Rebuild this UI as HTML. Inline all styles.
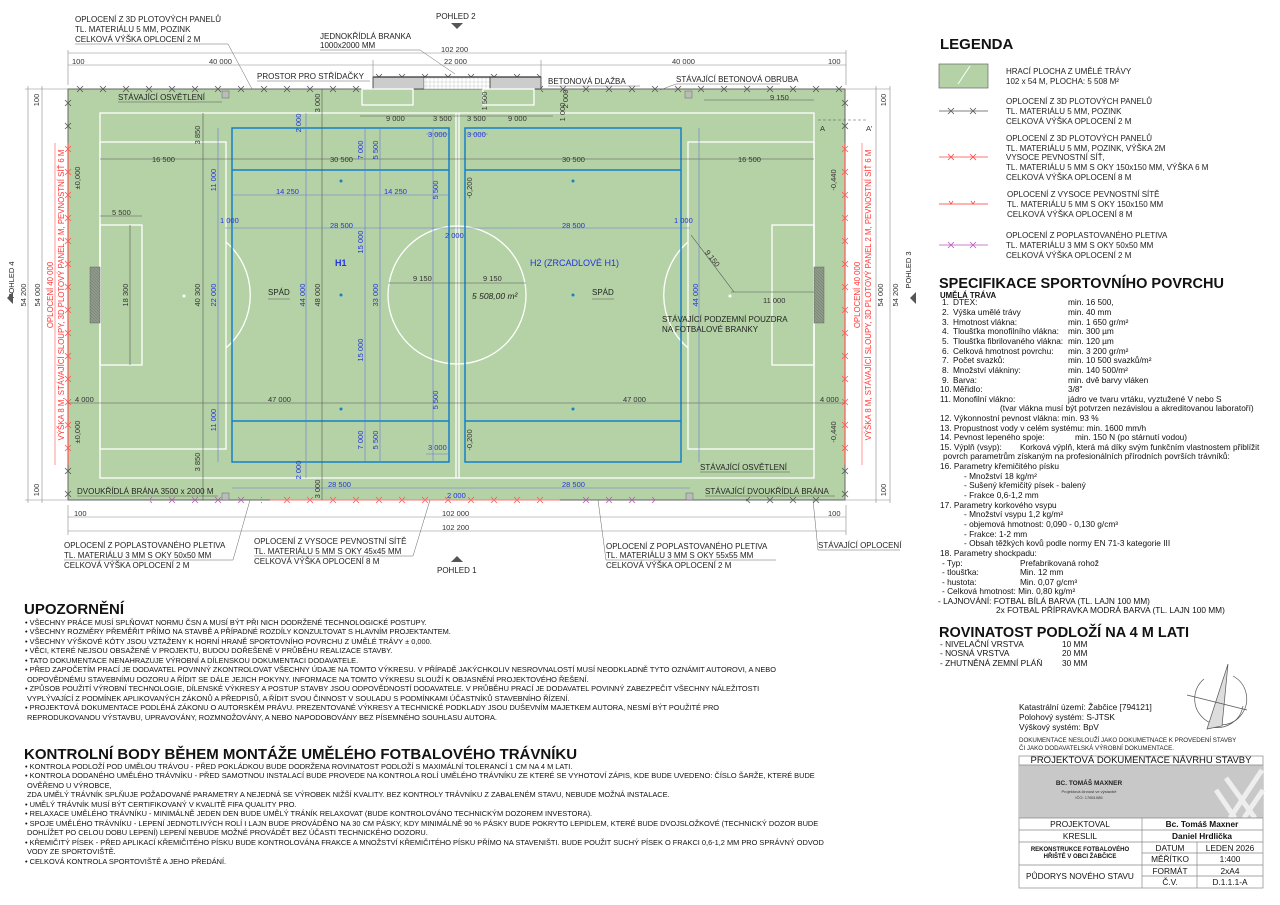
<!DOCTYPE html>
<html><head><meta charset="utf-8"><style>
html,body{margin:0;padding:0;background:#fff;}
svg{display:block;font-family:"Liberation Sans",Arial,sans-serif;}
.d{font-size:7.5px;fill:#333;}
.b{font-size:7.5px;fill:#2233dd;}
.l{font-size:8px;fill:#222;}
.s{font-size:8.3px;fill:#111;}
.n{font-size:7.4px;fill:#111;}
</style></head><body>
<svg width="1280" height="905" viewBox="0 0 1280 905" xmlns="http://www.w3.org/2000/svg">
<defs>
<pattern id="xgT" x="0" y="84" width="23" height="10" patternUnits="userSpaceOnUse"><path d="M8 2 L14 8 M14 2 L8 8" stroke="#555" stroke-width="0.8"/></pattern>
<pattern id="xgS" x="0" y="72" width="23" height="10" patternUnits="userSpaceOnUse"><path d="M8 2 L14 8 M14 2 L8 8" stroke="#555" stroke-width="0.8"/></pattern>
<pattern id="xgB" x="0" y="495" width="23" height="10" patternUnits="userSpaceOnUse"><path d="M8 2 L14 8 M14 2 L8 8" stroke="#555" stroke-width="0.8"/></pattern>
<pattern id="xrB" x="0" y="495" width="23" height="10" patternUnits="userSpaceOnUse"><path d="M8 2 L14 8 M14 2 L8 8" stroke="#f55" stroke-width="0.8"/></pattern>
<pattern id="xpB" x="0" y="495" width="23" height="10" patternUnits="userSpaceOnUse"><path d="M8 2 L14 8 M14 2 L8 8" stroke="#b5b" stroke-width="0.8"/></pattern>
<pattern id="xgL" x="63" y="0" width="10" height="23" patternUnits="userSpaceOnUse"><path d="M2 8 L8 14 M8 8 L2 14" stroke="#555" stroke-width="0.8"/></pattern>
<pattern id="xgR" x="840" y="0" width="10" height="23" patternUnits="userSpaceOnUse"><path d="M2 8 L8 14 M8 8 L2 14" stroke="#555" stroke-width="0.8"/></pattern>
<pattern id="xrL" x="63" y="0" width="10" height="23" patternUnits="userSpaceOnUse"><path d="M2 8 L8 14 M8 8 L2 14" stroke="#f55" stroke-width="0.8"/></pattern>
<pattern id="xrR" x="840" y="0" width="10" height="23" patternUnits="userSpaceOnUse"><path d="M2 8 L8 14 M8 8 L2 14" stroke="#f55" stroke-width="0.8"/></pattern>
<pattern id="hat" width="4" height="4" patternUnits="userSpaceOnUse"><rect width="4" height="4" fill="#fff"/><path d="M0 2H4M2 0V4" stroke="#ccc" stroke-width="0.5"/></pattern>
<pattern id="gn" width="3" height="3" patternUnits="userSpaceOnUse"><rect width="3" height="3" fill="#8f9a8a"/><path d="M0 0L3 3" stroke="#6a7766" stroke-width="0.5"/></pattern>
</defs>

<!-- FIELD -->
<rect x="68" y="89" width="777" height="411" fill="#b5d2a6" stroke="#666" stroke-width="1"/>
<!-- fences -->
<rect x="68" y="84" width="305" height="10" fill="url(#xgT)"/>
<rect x="541" y="84" width="304" height="10" fill="url(#xgT)"/>
<rect x="373" y="72" width="168" height="10" fill="url(#xgS)"/>
<rect x="63" y="89" width="10" height="54" fill="url(#xgL)"/>
<rect x="63" y="143" width="10" height="322" fill="url(#xrL)"/>
<rect x="63" y="465" width="10" height="35" fill="url(#xgL)"/>
<rect x="840" y="89" width="10" height="54" fill="url(#xgR)"/>
<rect x="840" y="143" width="10" height="322" fill="url(#xrR)"/>
<rect x="840" y="465" width="10" height="35" fill="url(#xgR)"/>
<line x1="68" y1="143" x2="68" y2="465" stroke="#f55" stroke-width="1.2"/>
<line x1="845" y1="143" x2="845" y2="465" stroke="#f55" stroke-width="1.2"/>
<rect x="150" y="495" width="112" height="10" fill="url(#xpB)"/>
<rect x="270" y="495" width="290" height="10" fill="url(#xrB)"/>
<rect x="580" y="495" width="75" height="10" fill="url(#xpB)"/>
<rect x="746" y="495" width="80" height="10" fill="url(#xgB)"/>
<line x1="270" y1="500" x2="560" y2="500" stroke="#f77" stroke-width="1"/>
<!-- substitutes area -->
<rect x="373" y="77" width="51" height="12" fill="#ccc" stroke="#333" stroke-width="0.8"/>
<rect x="424" y="77" width="66" height="12" fill="url(#hat)" stroke="#999" stroke-width="0.5"/>
<rect x="490" y="77" width="51" height="12" fill="#ccc" stroke="#333" stroke-width="0.8"/>
<line x1="373" y1="77" x2="541" y2="77" stroke="#333" stroke-width="1.2"/>

<!-- white markings -->
<g fill="none" stroke="#fff" stroke-width="1.3">
<rect x="100" y="113" width="714" height="365"/>
<line x1="456" y1="113" x2="456" y2="478"/><line x1="459" y1="113" x2="459" y2="478"/>
<circle cx="457" cy="295" r="69"/>
<rect x="100" y="142" width="126" height="307"/>
<rect x="100" y="225" width="42" height="140"/>
<rect x="688" y="142" width="126" height="307"/>
<rect x="772" y="225" width="42" height="140"/>
<path d="M226 242 A70 70 0 0 1 226 348"/>
<path d="M688 242 A70 70 0 0 0 688 348"/>
<rect x="362" y="89" width="51" height="16"/>
<rect x="483" y="89" width="51" height="16"/>
</g>
<circle cx="184" cy="296" r="1.5" fill="#fff"/><circle cx="730" cy="296" r="1.5" fill="#fff"/>
<rect x="90" y="267" width="10" height="56" fill="url(#gn)" stroke="#666" stroke-width="0.5"/>
<rect x="814" y="267" width="10" height="56" fill="url(#gn)" stroke="#666" stroke-width="0.5"/>

<!-- blue small pitches -->
<g fill="none" stroke="#1580c8" stroke-width="1.5">
<rect x="232" y="128" width="217" height="334"/>
<line x1="232" y1="170" x2="449" y2="170"/><line x1="232" y1="421" x2="449" y2="421"/>
<rect x="465" y="128" width="216" height="334"/>
<line x1="465" y1="170" x2="681" y2="170"/><line x1="465" y1="421" x2="681" y2="421"/>
</g>
<g fill="#1580c8"><circle cx="341" cy="181" r="1.5"/><circle cx="341" cy="295" r="1.5"/><circle cx="341" cy="409" r="1.5"/>
<circle cx="573" cy="181" r="1.5"/><circle cx="573" cy="295" r="1.5"/><circle cx="573" cy="409" r="1.5"/></g>

<!-- grey dimension lines in field -->
<g stroke="#555" stroke-width="0.6" fill="none">
<line x1="100" y1="159" x2="814" y2="159"/>
<line x1="100" y1="216" x2="142" y2="216"/>
<line x1="68" y1="403" x2="845" y2="403"/>
<line x1="203" y1="113" x2="203" y2="500"/>
<line x1="130" y1="225" x2="130" y2="365"/>
<line x1="322" y1="89" x2="322" y2="500"/>
<line x1="388" y1="283" x2="526" y2="283"/>
<line x1="360" y1="116" x2="460" y2="116"/><line x1="460" y1="116" x2="553" y2="116"/>
<line x1="704" y1="100" x2="814" y2="100"/>
<line x1="731" y1="292" x2="814" y2="292"/>
<line x1="691" y1="235" x2="734" y2="292"/>
<line x1="818" y1="120" x2="868" y2="120" stroke-dasharray="3 2"/>
</g>
<!-- blue dimension lines -->
<g stroke="#6677dd" stroke-width="0.6" fill="none">
<line x1="218" y1="128" x2="218" y2="462"/>
<line x1="306" y1="113" x2="306" y2="478"/>
<line x1="365" y1="128" x2="365" y2="462"/>
<line x1="380" y1="128" x2="380" y2="462"/>
<line x1="433" y1="128" x2="433" y2="462"/>
<line x1="699" y1="128" x2="699" y2="462"/>
<line x1="232" y1="195" x2="449" y2="195"/>
<line x1="225" y1="228" x2="690" y2="228"/>
<line x1="232" y1="488" x2="690" y2="488"/>
<line x1="426" y1="134" x2="449" y2="134"/><line x1="465" y1="134" x2="488" y2="134"/>
<line x1="426" y1="454" x2="449" y2="454"/>
</g>

<!-- field texts -->
<g class="d">
<text x="152" y="162">16 500</text><text x="330" y="162">30 500</text><text x="562" y="162">30 500</text><text x="738" y="162">16 500</text>
<text x="112" y="215">5 500</text>
<text x="75" y="402">4 000</text><text x="268" y="402">47 000</text><text x="623" y="402">47 000</text><text x="820" y="402">4 000</text>
<text x="386" y="121">9 000</text><text x="433" y="121">3 500</text><text x="467" y="121">3 500</text><text x="508" y="121">9 000</text>
<text x="770" y="100">9 150</text>
<text x="413" y="281">9 150</text><text x="483" y="281">9 150</text>
<text x="763" y="303">11 000</text>
<text transform="rotate(52 712 262)" x="700" y="262">9 150</text>
<text transform="rotate(-90 200 135)" x="200" y="135" text-anchor="middle">3 850</text>
<text transform="rotate(-90 200 295)" x="200" y="295" text-anchor="middle">40 300</text>
<text transform="rotate(-90 200 462)" x="200" y="462" text-anchor="middle">3 850</text>
<text transform="rotate(-90 128 295)" x="128" y="295" text-anchor="middle">18 300</text>
<text transform="rotate(-90 320 103)" x="320" y="103" text-anchor="middle">3 000</text>
<text transform="rotate(-90 320 295)" x="320" y="295" text-anchor="middle">48 000</text>
<text transform="rotate(-90 320 489)" x="320" y="489" text-anchor="middle">3 000</text>
<text transform="rotate(-90 80 178)" x="80" y="178" text-anchor="middle">±0,000</text>
<text transform="rotate(-90 80 432)" x="80" y="432" text-anchor="middle">±0,000</text>
<text transform="rotate(-90 836 180)" x="836" y="180" text-anchor="middle">-0,440</text>
<text transform="rotate(-90 836 432)" x="836" y="432" text-anchor="middle">-0,440</text>
<text transform="rotate(-90 472 188)" x="472" y="188" text-anchor="middle">-0,200</text>
<text transform="rotate(-90 472 440)" x="472" y="440" text-anchor="middle">-0,200</text>
<text transform="rotate(-90 487 101)" x="487" y="101" text-anchor="middle">1 500</text>
<text transform="rotate(-90 568 99)" x="568" y="99" text-anchor="middle">2 000</text>
<text transform="rotate(-90 565 112)" x="565" y="112" text-anchor="middle">1 000</text>
</g>
<g class="b">
<text x="276" y="194">14 250</text><text x="384" y="194">14 250</text>
<text x="220" y="223">1 000</text><text x="674" y="223">1 000</text>
<text x="330" y="228">28 500</text><text x="562" y="228">28 500</text>
<text x="445" y="238">2 000</text>
<text x="428" y="137">3 000</text><text x="467" y="137">3 000</text><text x="428" y="450">3 000</text>
<text x="328" y="487">28 500</text><text x="562" y="487">28 500</text><text x="447" y="498">2 000</text>
<text transform="rotate(-90 216 180)" x="216" y="180" text-anchor="middle">11 000</text>
<text transform="rotate(-90 216 295)" x="216" y="295" text-anchor="middle">22 000</text>
<text transform="rotate(-90 216 420)" x="216" y="420" text-anchor="middle">11 000</text>
<text transform="rotate(-90 301 123)" x="301" y="123" text-anchor="middle">2 000</text>
<text transform="rotate(-90 305 295)" x="305" y="295" text-anchor="middle">44 000</text>
<text transform="rotate(-90 301 470)" x="301" y="470" text-anchor="middle">2 000</text>
<text transform="rotate(-90 363 150)" x="363" y="150" text-anchor="middle">7 000</text>
<text transform="rotate(-90 363 242)" x="363" y="242" text-anchor="middle">15 000</text>
<text transform="rotate(-90 363 350)" x="363" y="350" text-anchor="middle">15 000</text>
<text transform="rotate(-90 363 440)" x="363" y="440" text-anchor="middle">7 000</text>
<text transform="rotate(-90 378 150)" x="378" y="150" text-anchor="middle">5 500</text>
<text transform="rotate(-90 378 295)" x="378" y="295" text-anchor="middle">33 000</text>
<text transform="rotate(-90 378 440)" x="378" y="440" text-anchor="middle">5 500</text>
<text transform="rotate(-90 438 190)" x="438" y="190" text-anchor="middle">5 500</text>
<text transform="rotate(-90 438 400)" x="438" y="400" text-anchor="middle">5 500</text>
<text transform="rotate(-90 698 295)" x="698" y="295" text-anchor="middle">44 000</text>
</g>
<text x="335" y="266" font-size="9" font-weight="bold" fill="#2233dd">H1</text>
<text x="530" y="266" font-size="9" fill="#2233dd">H2 (ZRCADLOVÉ H1)</text>
<text x="268" y="295" class="l">SPÁD</text><line x1="268" y1="299" x2="290" y2="299" stroke="#555" stroke-width="0.5"/>
<text x="592" y="295" class="l">SPÁD</text><line x1="592" y1="299" x2="614" y2="299" stroke="#555" stroke-width="0.5"/>
<text x="472" y="299" font-size="8.5" font-style="italic" fill="#222">5 508,00 m²</text>
<text x="662" y="322" class="l">STÁVAJÍCÍ PODZEMNÍ POUZDRA</text>
<text x="662" y="332" class="l">NA FOTBALOVÉ BRANKY</text>
<text x="118" y="100" class="l">STÁVAJÍCÍ OSVĚTLENÍ</text><line x1="118" y1="102" x2="222" y2="102" stroke="#555" stroke-width="0.5"/>
<rect x="222" y="91" width="7" height="7" fill="#bbb" stroke="#666" stroke-width="0.5"/>
<rect x="685" y="91" width="7" height="7" fill="#bbb" stroke="#666" stroke-width="0.5"/>
<rect x="222" y="493" width="7" height="7" fill="#bbb" stroke="#666" stroke-width="0.5"/>
<rect x="686" y="493" width="7" height="7" fill="#bbb" stroke="#666" stroke-width="0.5"/>
<text x="700" y="470" class="l">STÁVAJÍCÍ OSVĚTLENÍ</text><line x1="700" y1="472" x2="790" y2="472" stroke="#555" stroke-width="0.5"/>
<text x="77" y="494" class="l">DVOUKŘÍDLÁ BRÁNA 3500 x 2000 M</text><line x1="77" y1="496" x2="218" y2="496" stroke="#555" stroke-width="0.5"/>
<text x="705" y="494" class="l">STÁVAJÍCÍ DVOUKŘÍDLÁ BRÁNA</text><line x1="705" y1="496" x2="835" y2="496" stroke="#555" stroke-width="0.5"/>
<text x="820" y="131" font-size="7.5" fill="#333">A</text><text x="866" y="131" font-size="7.5" fill="#333">A'</text>

<!-- top annotations -->
<g class="l">
<text x="75" y="22">OPLOCENÍ Z 3D PLOTOVÝCH PANELŮ</text>
<text x="75" y="32">TL. MATERIÁLU 5 MM, POZINK</text>
<text x="75" y="42">CELKOVÁ VÝŠKA OPLOCENÍ 2 M</text>
<text x="320" y="39">JEDNOKŘÍDLÁ BRANKA</text>
<text x="320" y="48">1000x2000 MM</text>
<text x="257" y="79">PROSTOR PRO STŘÍDAČKY</text>
<text x="548" y="84">BETONOVÁ DLAŽBA</text>
<text x="676" y="82">STÁVAJÍCÍ BETONOVÁ OBRUBA</text>
<text x="436" y="19">POHLED 2</text>
</g>
<g stroke="#666" stroke-width="0.5" fill="none">
<line x1="75" y1="44" x2="228" y2="44"/><line x1="228" y1="44" x2="252" y2="89"/>
<line x1="320" y1="50" x2="420" y2="50"/><line x1="420" y1="50" x2="455" y2="74"/>
<line x1="257" y1="81" x2="370" y2="81"/>
<line x1="548" y1="86" x2="640" y2="86"/>
<line x1="676" y1="84" x2="780" y2="84"/><line x1="676" y1="84" x2="660" y2="90"/>
</g>
<path d="M451 23 L463 23 L457 29Z" fill="#555"/>
<g stroke="#888" stroke-width="0.6" fill="none">
<line x1="68" y1="53" x2="846" y2="53"/>
<line x1="68" y1="65" x2="846" y2="65"/>
<line x1="68" y1="50" x2="68" y2="85"/><line x1="846" y1="50" x2="846" y2="85"/>
<line x1="373" y1="60" x2="373" y2="77"/><line x1="541" y1="60" x2="541" y2="77"/>
<line x1="25" y1="89" x2="68" y2="89"/><line x1="25" y1="500" x2="68" y2="500"/>
<line x1="845" y1="89" x2="890" y2="89"/><line x1="845" y1="500" x2="890" y2="500"/>
<line x1="28" y1="86" x2="28" y2="503"/><line x1="42" y1="86" x2="42" y2="503"/>
<line x1="876" y1="86" x2="876" y2="503"/><line x1="890" y1="86" x2="890" y2="503"/>
<line x1="68" y1="517" x2="846" y2="517"/><line x1="68" y1="531" x2="846" y2="531"/>
<line x1="68" y1="505" x2="68" y2="535"/><line x1="846" y1="505" x2="846" y2="535"/>
</g>
<g class="d" font-size="8">
<text x="441" y="52">102 200</text><text x="444" y="64">22 000</text>
<text x="209" y="64">40 000</text><text x="672" y="64">40 000</text>
<text x="72" y="64">100</text><text x="828" y="64">100</text>
<text x="74" y="516">100</text><text x="442" y="516">102 000</text><text x="442" y="530">102 200</text><text x="828" y="516">100</text>
<text transform="rotate(-90 39 100)" x="39" y="100" text-anchor="middle">100</text>
<text transform="rotate(-90 39 490)" x="39" y="490" text-anchor="middle">100</text>
<text transform="rotate(-90 886 100)" x="886" y="100" text-anchor="middle">100</text>
<text transform="rotate(-90 886 490)" x="886" y="490" text-anchor="middle">100</text>
<text transform="rotate(-90 26 295)" x="26" y="295" text-anchor="middle">54 200</text>
<text transform="rotate(-90 40 295)" x="40" y="295" text-anchor="middle">54 000</text>
<text transform="rotate(-90 883 295)" x="883" y="295" text-anchor="middle">54 000</text>
<text transform="rotate(-90 898 295)" x="898" y="295" text-anchor="middle">54 200</text>
<text transform="rotate(-90 14 280)" x="14" y="280" text-anchor="middle" fill="#222">POHLED 4</text>
<text transform="rotate(-90 911 270)" x="911" y="270" text-anchor="middle" fill="#222">POHLED 3</text>
</g>
<path d="M7 298 L13 292 L13 304Z" fill="#555"/>
<path d="M910 298 L916 292 L916 304Z" fill="#555"/>
<g font-size="7.8" fill="#f33">
<text transform="rotate(-90 53 295)" x="53" y="295" text-anchor="middle">OPLOCENÍ 40 000</text>
<text transform="rotate(-90 64 295)" x="64" y="295" text-anchor="middle">VÝŠKA 8 M, STÁVAJÍCÍ SLOUPY, 3D PLOTOVÝ PANEL 2 M, PEVNOSTNÍ SÍŤ 6 M</text>
<text transform="rotate(-90 860 295)" x="860" y="295" text-anchor="middle">OPLOCENÍ 40 000</text>
<text transform="rotate(-90 871 295)" x="871" y="295" text-anchor="middle">VÝŠKA 8 M, STÁVAJÍCÍ SLOUPY, 3D PLOTOVÝ PANEL 2 M, PEVNOSTNÍ SÍŤ 6 M</text>
</g>
<g stroke="#f55" stroke-width="0.6"><line x1="55" y1="143" x2="55" y2="465"/><line x1="862" y1="143" x2="862" y2="465"/></g>

<!-- bottom annotations -->
<g class="l">
<text x="64" y="548">OPLOCENÍ Z POPLASTOVANÉHO PLETIVA</text>
<text x="64" y="558">TL. MATERIÁLU 3 MM S OKY 50x50 MM</text>
<text x="64" y="568">CELKOVÁ VÝŠKA OPLOCENÍ 2 M</text>
<text x="254" y="544">OPLOCENÍ Z VYSOCE PEVNOSTNÍ SÍTĚ</text>
<text x="254" y="554">TL. MATERIÁLU 5 MM S OKY 45x45 MM</text>
<text x="254" y="564">CELKOVÁ VÝŠKA OPLOCENÍ 8 M</text>
<text x="606" y="549">OPLOCENÍ Z POPLASTOVANÉHO PLETIVA</text>
<text x="606" y="558">TL. MATERIÁLU 3 MM S OKY 55x55 MM</text>
<text x="606" y="568">CELKOVÁ VÝŠKA OPLOCENÍ 2 M</text>
<text x="818" y="548">STÁVAJÍCÍ OPLOCENÍ</text>
<text x="437" y="573">POHLED 1</text>
</g>
<path d="M451 562 L463 562 L457 556Z" fill="#555"/>
<g stroke="#666" stroke-width="0.5" fill="none">
<line x1="64" y1="560" x2="233" y2="560"/><line x1="233" y1="560" x2="250" y2="500"/>
<line x1="254" y1="556" x2="413" y2="556"/><line x1="413" y1="556" x2="430" y2="500"/>
<line x1="606" y1="560" x2="776" y2="560"/><line x1="606" y1="560" x2="598" y2="500"/>
<line x1="818" y1="550" x2="900" y2="550"/><line x1="818" y1="550" x2="813" y2="500"/>
</g>

<!-- LEGEND -->
<text x="940" y="49" font-size="15" font-weight="bold" fill="#111">LEGENDA</text>
<rect x="939" y="64" width="49" height="24" fill="#b5d2a6" stroke="#666" stroke-width="0.7"/>
<line x1="958" y1="84" x2="970" y2="66" stroke="#fff" stroke-width="1"/>
<g class="l">
<text x="1006" y="74">HRACÍ PLOCHA Z UMĚLÉ TRÁVY</text>
<text x="1006" y="84">102 x 54 M, PLOCHA: 5 508 M²</text>
<text x="1006" y="104">OPLOCENÍ Z 3D PLOTOVÝCH PANELŮ</text>
<text x="1006" y="114">TL. MATERIÁLU 5 MM, POZINK</text>
<text x="1006" y="124">CELKOVÁ VÝŠKA OPLOCENÍ 2 M</text>
<text x="1006" y="141">OPLOCENÍ Z 3D PLOTOVÝCH PANELŮ</text>
<text x="1006" y="151">TL. MATERIÁLU 5 MM, POZINK, VÝŠKA 2M</text>
<text x="1006" y="160">VYSOCE PEVNOSTNÍ SÍŤ,</text>
<text x="1006" y="170">TL. MATERIÁLU 5 MM S OKY 150x150 MM, VÝŠKA 6 M</text>
<text x="1006" y="180">CELKOVÁ VÝŠKA OPLOCENÍ 8 M</text>
<text x="1007" y="197">OPLOCENÍ Z VYSOCE PEVNOSTNÍ SÍTĚ</text>
<text x="1007" y="207">TL. MATERIÁLU 5 MM S OKY 150x150 MM</text>
<text x="1007" y="217">CELKOVÁ VÝŠKA OPLOCENÍ 8 M</text>
<text x="1006" y="238">OPLOCENÍ Z POPLASTOVANÉHO PLETIVA</text>
<text x="1006" y="248">TL. MATERIÁLU 3 MM S OKY 50x50 MM</text>
<text x="1006" y="258">CELKOVÁ VÝŠKA OPLOCENÍ 2 M</text>
</g>
<g stroke-width="0.8">
<line x1="939" y1="111" x2="988" y2="111" stroke="#555"/><path d="M948 108L954 114M954 108L948 114M970 108L976 114M976 108L970 114" stroke="#555"/>
<line x1="939" y1="157" x2="988" y2="157" stroke="#f44"/><path d="M948 154L954 160M954 154L948 160M970 154L976 160M976 154L970 160" stroke="#f44"/>
<line x1="939" y1="204" x2="988" y2="204" stroke="#f99" stroke-width="1.5"/><path d="M949 201L951 204L953 201M971 201L973 204L975 201" stroke="#f44" fill="none"/>
<line x1="939" y1="245" x2="988" y2="245" stroke="#b5b"/><path d="M948 242L954 248M954 242L948 248M970 242L976 248M976 242L970 248" stroke="#b5b"/>
</g>

<!-- SPEC -->
<text x="939" y="288" font-size="14.5" font-weight="bold" fill="#111">SPECIFIKACE SPORTOVNÍHO POVRCHU</text>
<text x="940" y="298" font-size="7.8" font-weight="bold" fill="#111">UMĚLÁ TRÁVA</text>
<g class="s" font-size="7.8">
<text y="305"><tspan x="942">1.</tspan><tspan x="953">DTEX:</tspan><tspan x="1068">min. 16 500,</tspan></text>
<text y="315"><tspan x="942">2.</tspan><tspan x="953">Výška umělé trávy</tspan><tspan x="1068">min. 40 mm</tspan></text>
<text y="325"><tspan x="942">3.</tspan><tspan x="953">Hmotnost vlákna:</tspan><tspan x="1068">min. 1 650 gr/m²</tspan></text>
<text y="334"><tspan x="942">4.</tspan><tspan x="953">Tloušťka monofilního vlákna:</tspan><tspan x="1068">min. 300 µm</tspan></text>
<text y="344"><tspan x="942">5.</tspan><tspan x="953">Tloušťka fibrilovaného vlákna:</tspan><tspan x="1068">min. 120 µm</tspan></text>
<text y="354"><tspan x="942">6.</tspan><tspan x="953">Celková hmotnost povrchu:</tspan><tspan x="1068">min. 3 200 gr/m²</tspan></text>
<text y="363"><tspan x="942">7.</tspan><tspan x="953">Počet svazků:</tspan><tspan x="1068">min. 10 500 svazků/m²</tspan></text>
<text y="373"><tspan x="942">8.</tspan><tspan x="953">Množství vlákniny:</tspan><tspan x="1068">min. 140 500/m²</tspan></text>
<text y="383"><tspan x="942">9.</tspan><tspan x="953">Barva:</tspan><tspan x="1068">min. dvě barvy vláken</tspan></text>
<text y="392"><tspan x="940">10.</tspan><tspan x="953">Měřidlo:</tspan><tspan x="1068">3/8"</tspan></text>
<text y="402"><tspan x="940">11.</tspan><tspan x="953">Monofilní vlákno:</tspan><tspan x="1068">jádro ve tvaru vrtáku, vyztužené V nebo S</tspan></text>
<text x="1000" y="411">(tvar vlákna musí být potvrzen nezávislou a akreditovanou laboratoří)</text>
<text x="940" y="421">12. Výkonnostní pevnost vlákna:   min. 93 %</text>
<text x="940" y="431">13. Propustnost vody v celém systému:  min. 1600 mm/h</text>
<text y="440"><tspan x="940">14. Pevnost lepeného spoje:</tspan><tspan x="1075">min. 150 N (po stárnutí vodou)</tspan></text>
<text y="450"><tspan x="940">15. Výplň (vsyp):</tspan><tspan x="1020">Korková výplň, která má díky svým funkčním vlastnostem přiblížit</tspan></text>
<text x="943" y="459">povrch parametrům získaným na profesionálních přírodních površích trávníků:</text>
<text x="940" y="469">16. Parametry křemičitého písku</text>
<text x="964" y="479">- Množství 18 kg/m²</text>
<text x="964" y="488">- Sušený křemičitý písek - balený</text>
<text x="964" y="498">- Frakce 0,6-1,2 mm</text>
<text x="940" y="508">17. Parametry korkového vsypu</text>
<text x="964" y="517">- Množství vsypu 1,2 kg/m²</text>
<text x="964" y="527">- objemová hmotnost: 0,090 - 0,130 g/cm³</text>
<text x="964" y="537">- Frakce: 1-2 mm</text>
<text x="964" y="546">- Obsah těžkých kovů podle normy EN 71-3 kategorie III</text>
<text x="940" y="556">18. Parametry shockpadu:</text>
<text y="566"><tspan x="942">- Typ:</tspan><tspan x="1020">Prefabrikovaná rohož</tspan></text>
<text y="575"><tspan x="942">- tloušťka:</tspan><tspan x="1020">Min. 12 mm</tspan></text>
<text y="585"><tspan x="942">- hustota:</tspan><tspan x="1020">Min. 0,07 g/cm³</tspan></text>
<text x="942" y="594">- Celková hmotnost: Min. 0,80 kg/m²</text>
<text x="938" y="604">- LAJNOVÁNÍ:  FOTBAL BÍLÁ BARVA (TL. LAJN 100 MM)</text>
<text x="996" y="613">2x FOTBAL PŘÍPRAVKA MODRÁ BARVA (TL. LAJN 100 MM)</text>
</g>
<text x="939" y="637" font-size="14.5" font-weight="bold" fill="#111">ROVINATOST PODLOŽÍ NA 4 M LATI</text>
<g class="s" font-size="7.8">
<text y="647"><tspan x="940">- NIVELAČNÍ VRSTVA</tspan><tspan x="1062">10 MM</tspan></text>
<text y="656"><tspan x="940">- NOSNÁ VRSTVA</tspan><tspan x="1062">20 MM</tspan></text>
<text y="666"><tspan x="940">- ZHUTNĚNÁ ZEMNÍ PLÁŇ</tspan><tspan x="1062">30 MM</tspan></text>
</g>

<!-- compass -->
<g stroke="#555" stroke-width="0.7" fill="none">
<path d="M1233 676 A26 26 0 1 1 1204 679"/>
<path d="M1212 727 A26 26 0 0 0 1243 706"/>
<path d="M1228 664 L1207 729 L1222 726Z" fill="#ddd"/>
<line x1="1187" y1="695" x2="1247" y2="710"/>
</g>
<g class="s" font-size="8.5">
<text x="1019" y="710">Katastrální území: Žabčice [794121]</text>
<text x="1019" y="720">Polohový systém: S-JTSK</text>
<text x="1019" y="730">Výškový systém: BpV</text>
</g>
<g font-size="6.2" fill="#222">
<text x="1019" y="742">DOKUMENTACE NESLOUŽÍ JAKO DOKUMETNACE K PROVEDENÍ STAVBY</text>
<text x="1019" y="750">ČI JAKO DODAVATELSKÁ VÝROBNÍ DOKUMENTACE.</text>
</g>
<!-- title block -->
<rect x="1019" y="756" width="244" height="132" fill="#fff" stroke="#888" stroke-width="0.7"/>
<rect x="1019" y="765" width="244" height="53" fill="#c8c8c8"/>
<path d="M1230 818 L1262 770 M1244 818 L1263 790 M1216 790 L1235 818 M1226 778 L1255 818" stroke="#eee" stroke-width="5"/>
<g stroke="#888" stroke-width="0.7" fill="none">
<line x1="1019" y1="765" x2="1263" y2="765"/><line x1="1019" y1="818" x2="1263" y2="818"/>
<line x1="1019" y1="830" x2="1263" y2="830"/><line x1="1019" y1="842" x2="1263" y2="842"/>
<line x1="1142" y1="853" x2="1263" y2="853"/><line x1="1019" y1="865" x2="1263" y2="865"/>
<line x1="1142" y1="876" x2="1263" y2="876"/>
<line x1="1142" y1="818" x2="1142" y2="888"/><line x1="1197" y1="842" x2="1197" y2="888"/>
</g>
<text x="1141" y="763" font-size="9.5" fill="#111" text-anchor="middle">PROJEKTOVÁ DOKUMENTACE NÁVRHU STAVBY</text>
<text x="1089" y="785" font-size="6.5" font-weight="bold" fill="#222" text-anchor="middle">BC. TOMÁŠ MAXNER</text>
<text x="1089" y="793" font-size="4" fill="#333" text-anchor="middle">Projektová činnost ve výstavbě</text>
<text x="1089" y="799" font-size="4" fill="#333" text-anchor="middle">IČO: 17651085</text>
<g font-size="8.3" fill="#111" text-anchor="middle">
<text x="1080" y="827">PROJEKTOVAL</text><text x="1202" y="827" font-weight="bold">Bc. Tomáš Maxner</text>
<text x="1080" y="839">KRESLIL</text><text x="1202" y="839" font-weight="bold">Daniel Hrdlička</text>
<text x="1080" y="851" font-size="6" font-weight="bold">REKONSTRUKCE FOTBALOVÉHO</text>
<text x="1080" y="858" font-size="6" font-weight="bold">HŘIŠTĚ V OBCI ŽABČICE</text>
<text x="1170" y="851">DATUM</text><text x="1230" y="851">LEDEN 2026</text>
<text x="1170" y="862">MĚŘÍTKO</text><text x="1230" y="862">1:400</text>
<text x="1080" y="879">PŮDORYS NOVÉHO STAVU</text>
<text x="1170" y="874">FORMÁT</text><text x="1230" y="874">2xA4</text>
<text x="1170" y="885">Č.V.</text><text x="1230" y="885">D.1.1.1-A</text>
</g>

<!-- NOTES -->
<text x="24" y="614" font-size="15" font-weight="bold" fill="#111">UPOZORNĚNÍ</text>
<g class="n">
<text x="25" y="625">• VŠECHNY PRÁCE MUSÍ SPLŇOVAT NORMU ČSN A MUSÍ BÝT PŘI NICH DODRŽENÉ TECHNOLOGICKÉ POSTUPY.</text>
<text x="25" y="634">• VŠECHNY ROZMĚRY PŘEMĚŘIT PŘÍMO NA STAVBĚ A PŘÍPADNÉ ROZDÍLY KONZULTOVAT S HLAVNÍM PROJEKTANTEM.</text>
<text x="25" y="644">• VŠECHNY VÝŠKOVÉ KÓTY JSOU VZTAŽENY K HORNÍ HRANĚ SPORTOVNÍHO POVRCHU Z UMĚLÉ TRÁVY ± 0,000.</text>
<text x="25" y="653">• VĚCI, KTERÉ NEJSOU OBSAŽENÉ V PROJEKTU, BUDOU DOŘEŠENÉ V PRŮBĚHU REALIZACE STAVBY.</text>
<text x="25" y="663">• TATO DOKUMENTACE NENAHRAZUJE VÝROBNÍ A DÍLENSKOU DOKUMENTACI DODAVATELE.</text>
<text x="25" y="672">• PŘED ZAPOČETÍM PRACÍ JE DODAVATEL POVINNÝ ZKONTROLOVAT VŠECHNY ÚDAJE NA TOMTO VÝKRESU. V PŘÍPADĚ JAKÝCHKOLIV NESROVNALOSTÍ MUSÍ NEODKLADNĚ TYTO OZNÁMIT AUTOROVI, A NEBO</text>
<text x="27" y="682">ODPOVĚDNÉMU STAVEBNÍMU DOZORU A ŘÍDIT SE DÁLE JEJICH POKYNY. INFORMACE NA TOMTO VÝKRESU SLOUŽÍ K OBJASNĚNÍ PROJEKTOVÉHO ŘEŠENÍ.</text>
<text x="25" y="691">• ZPŮSOB POUŽITÍ VÝROBNÍ TECHNOLOGIE, DÍLENSKÉ VÝKRESY A POSTUP STAVBY JSOU ODPOVĚDNOSTÍ DODAVATELE. V PRŮBĚHU PRACÍ JE DODAVATEL POVINNÝ ZABEZPEČIT VŠECHNY NÁLEŽITOSTI</text>
<text x="27" y="701">VYPLÝVAJÍCÍ Z PODMÍNEK APLIKOVANÝCH ZÁKONŮ A PŘEDPISŮ, A ŘÍDIT SVOU ČINNOST V SOULADU S PODMÍNKAMI ÚČASTNÍKŮ STAVEBNÍHO ŘÍZENÍ.</text>
<text x="25" y="710">• PROJEKTOVÁ DOKUMENTACE PODLÉHÁ ZÁKONU O AUTORSKÉM PRÁVU. PREZENTOVANÉ VÝKRESY A TECHNICKÉ PODKLADY JSOU DUŠEVNÍM MAJETKEM AUTORA, NESMÍ BÝT POUŽITÉ PRO</text>
<text x="27" y="720">REPRODUKOVANOU VÝSTAVBU, UPRAVOVÁNY, ROZMNOŽOVÁNY, A NEBO NAPODOBOVÁNY BEZ PÍSEMNÉHO SOUHLASU AUTORA.</text>
</g>
<text x="24" y="759" font-size="15" font-weight="bold" fill="#111">KONTROLNÍ BODY BĚHEM MONTÁŽE UMĚLÉHO FOTBALOVÉHO TRÁVNÍKU</text>
<g class="n">
<text x="25" y="769">• KONTROLA PODLOŽÍ POD UMĚLOU TRÁVOU - PŘED POKLÁDKOU BUDE DODRŽENA ROVINATOST PODLOŽÍ S MAXIMÁLNÍ TOLERANCÍ 1 CM NA 4 M LATI.</text>
<text x="25" y="778">• KONTROLA DODANÉHO UMĚLÉHO TRÁVNÍKU - PŘED SAMOTNOU INSTALACÍ BUDE PROVEDE NA KONTROLA ROLÍ UMĚLÉHO TRÁVNÍKU ZE KTERÉ SE VYHOTOVÍ ZÁPIS, KDE BUDE UVEDENO: ČÍSLO ŠARŽE, KTERÉ BUDE</text>
<text x="27" y="788">OVĚŘENO  U VÝROBCE,</text>
<text x="27" y="797">ZDA UMĚLÝ TRÁVNÍK SPLŇUJE POŽADOVANÉ PARAMETRY A NEJEDNÁ SE VÝROBEK NIŽŠÍ KVALITY. BEZ KONTROLY TRÁVNÍKU Z ZABALENÉM STAVU, NEBUDE MOŽNÁ INSTALACE.</text>
<text x="25" y="807">• UMĚLÝ TRÁVNÍK MUSÍ BÝT CERTIFIKOVANÝ V KVALITĚ FIFA QUALITY PRO.</text>
<text x="25" y="816">• RELAXACE UMĚLÉHO TRÁVNÍKU - MINIMÁLNĚ JEDEN DEN BUDE UMĚLÝ TRÁNÍK RELAXOVAT (BUDE KONTROLOVÁNO TECHNICKÝM DOZOREM INVESTORA).</text>
<text x="25" y="826">• SPOJE UMĚLÉHO TRÁVNÍKU - LEPENÍ JEDNOTLIVÝCH ROLÍ I LAJN BUDE PROVÁDĚNO NA 30 CM PÁSKY, KDY MINIMÁLNĚ 90 % PÁSKY BUDE POKRYTO LEPIDLEM, KTERÉ BUDE DVOJSLOŽKOVÉ (TECHNICKÝ DOZOR BUDE</text>
<text x="27" y="835">DOHLÍŽET PO CELOU DOBU LEPENÍ) LEPENÍ NEBUDE MOŽNÉ PROVÁDĚT BEZ ÚČASTI TECHNICKÉHO DOZORU.</text>
<text x="25" y="845">• KŘEMIČITÝ PÍSEK - PŘED APLIKACÍ KŘEMIČITÉHO PÍSKU BUDE KONTROLOVÁNA FRAKCE A MNOŽSTVÍ KŘEMIČITÉHO PÍSKU PŘÍMO NA STAVENIŠTI. BUDE POUŽIT SUCHÝ PÍSEK O FRAKCI 0,6-1,2 MM PRO SPRÁVNÝ ODVOD</text>
<text x="27" y="854">VODY ZE SPORTOVIŠTĚ.</text>
<text x="25" y="864">• CELKOVÁ KONTROLA SPORTOVIŠTĚ A JEHO PŘEDÁNÍ.</text>
</g>
</svg>
</body></html>
